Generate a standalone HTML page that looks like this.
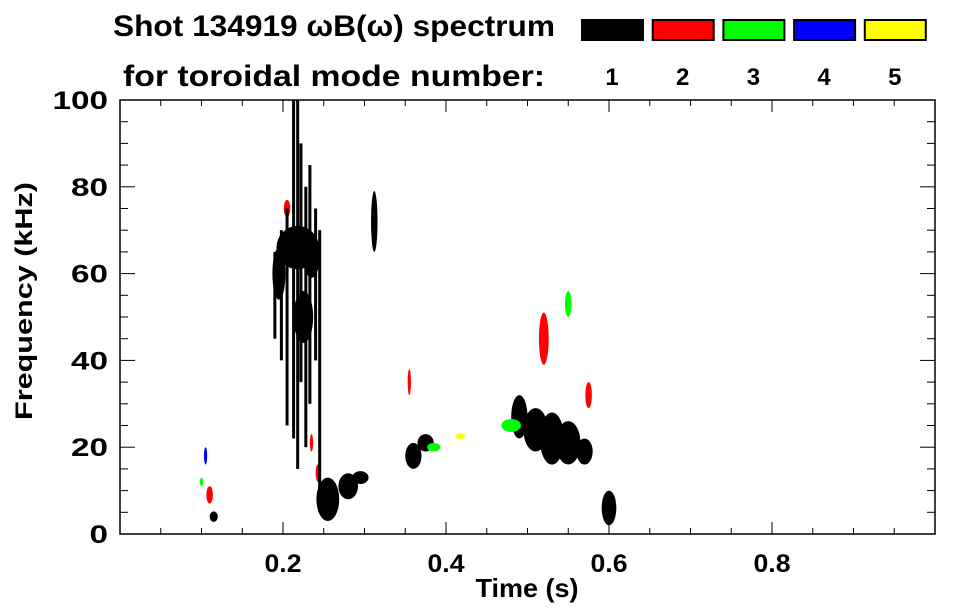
<!DOCTYPE html>
<html><head><meta charset="utf-8"><style>
body{margin:0;background:#fff;width:963px;height:615px;overflow:hidden}
svg{display:block;font-family:"Liberation Sans",sans-serif;font-weight:bold}
</style></head><body>
<svg id="chart" width="963" height="615">
<text x="113" y="36" font-size="30" textLength="442" lengthAdjust="spacingAndGlyphs">Shot 134919 ωB(ω) spectrum</text>
<text x="123" y="86" font-size="30" textLength="422" lengthAdjust="spacingAndGlyphs">for toroidal mode number:</text>
<g id="legend"></g>
<g id="marks"></g>
<rect x="120" y="100" width="815" height="434" fill="none" stroke="#000" stroke-width="1.5"/>
<g id="axes"></g>
<text x="527" y="597" font-size="26" textLength="103" lengthAdjust="spacingAndGlyphs" text-anchor="middle">Time (s)</text>
<text transform="translate(32,301) rotate(-90)" font-size="24" textLength="238" lengthAdjust="spacingAndGlyphs" text-anchor="middle">Frequency (kHz)</text>
</svg>
<script>
const modes=[1,2,3,4,5];
const modeColors=['#000','#f00','#0f0','#00f','#ff0'];
const xTicks=[0.2,0.4,0.6,0.8];
const yTicks=[0,20,40,60,80,100];
// blobs: center time, center freq, half-width (s), half-height (kHz), mode index
const blobT=[0.218,0.195,0.235,0.225,0.255,0.28,0.295,0.312,0.36,0.375,0.49,0.51,0.53,0.55,0.57,0.6,0.115,0.205,0.52,0.355,0.55,0.48,0.418,0.575,0.11,0.105,0.1,0.235,0.243,0.385];
const blobF=[66,60,64,50,8,11,13,72,18,21,27,24,22,21,19,6,4,75,45,35,53,25,22.5,32,9,18,12,21,14,20];
const blobDt=[0.026,0.008,0.01,0.012,0.014,0.012,0.01,0.004,0.01,0.01,0.01,0.015,0.015,0.015,0.01,0.009,0.005,0.004,0.006,0.002,0.004,0.012,0.006,0.004,0.004,0.002,0.002,0.002,0.003,0.008];
const blobDf=[5,6,5,6,5,3,1.5,7,3,2,5,5,6,5,3,4,1.2,2,6,3,3,1.5,0.7,3,2,2,1,2,2,1];
const blobMode=[0,0,0,0,0,0,0,0,0,0,0,0,0,0,0,0,0,1,1,1,2,2,4,1,1,3,2,1,1,2];
// vertical streaks: time, low freq, high freq
const streakT=[0.205,0.213,0.218,0.222,0.228,0.233,0.24,0.245,0.198,0.19];
const streakLo=[25,22,15,35,20,30,40,5,40,45];
const streakHi=[75,100,100,90,80,85,75,70,70,65];
const X=t=>120+t*815, Y=f=>534-f*4.34;
const ns='http://www.w3.org/2000/svg';
function mk(tag,attrs,parent){const e=document.createElementNS(ns,tag);for(const k in attrs)e.setAttribute(k,attrs[k]);parent.appendChild(e);return e;}
const marks=document.getElementById('marks'),axes=document.getElementById('axes'),leg=document.getElementById('legend');
blobT.forEach((t,i)=>{const e=mk('ellipse',{cx:X(t),cy:Y(blobF[i]),rx:blobDt[i]*815,ry:blobDf[i]*4.34,fill:modeColors[blobMode[i]]},marks);

});
streakT.forEach((t,i)=>{const e=mk('rect',{x:X(t)-1.5,y:Y(streakHi[i]),width:3,height:Y(streakLo[i])-Y(streakHi[i]),fill:'#000'},marks);

});
for(let t=0.05;t<1;t+=0.05){const major=Math.abs(t*5-Math.round(t*5))<1e-6,L=major?12:6;
mk('line',{x1:X(t),x2:X(t),y1:534,y2:534-L,stroke:'#000','stroke-width':1},axes);
mk('line',{x1:X(t),x2:X(t),y1:100,y2:100+L,stroke:'#000','stroke-width':1},axes);}
for(let f=5;f<100;f+=5){const major=f%20===0,L=major?15:8;
mk('line',{x1:120,x2:120+L,y1:Y(f),y2:Y(f),stroke:'#000','stroke-width':1},axes);
mk('line',{x1:935,x2:935-L,y1:Y(f),y2:Y(f),stroke:'#000','stroke-width':1},axes);}
xTicks.forEach(t=>{const e=mk('text',{x:X(t),y:572,'font-size':25,'text-anchor':'middle',textLength:37,lengthAdjust:'spacingAndGlyphs'},axes);e.textContent=t.toFixed(1);

});
yTicks.forEach(f=>{const s=String(f);const e=mk('text',{x:108,y:Y(f)+9,'font-size':25,'text-anchor':'end',textLength:s.length*18.5,lengthAdjust:'spacingAndGlyphs'},axes);e.textContent=s;

});
modes.forEach((m,i)=>{const x=582+i*70.7;
const r=mk('rect',{x:x,y:20,width:61,height:20,fill:modeColors[i],stroke:'#000','stroke-width':2},leg);


const t=mk('text',{x:x+30,y:85,'font-size':24,'text-anchor':'middle'},leg);t.textContent=m;

});
</script>
</body></html>
